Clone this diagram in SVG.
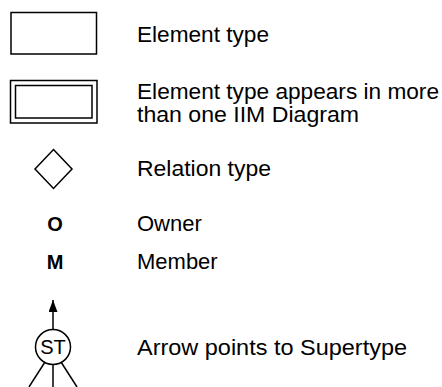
<svg xmlns="http://www.w3.org/2000/svg" width="442" height="387" viewBox="0 0 442 387">
  <style>
    .shape { fill: #fff; stroke: #000; stroke-width: 1.5; }
    .line { fill: none; stroke: #000; stroke-width: 1.5; }
    .label { font-family: "Liberation Sans", Arial, sans-serif; font-size: 22px; fill: #000; }
    .sym { font-family: "Liberation Sans", Arial, sans-serif; font-size: 20px; font-weight: bold; fill: #000; text-anchor: middle; }
    .st { font-family: "Liberation Sans", Arial, sans-serif; font-size: 20px; fill: #000; text-anchor: middle; }
  </style>
  <defs>
    <marker id="head" viewBox="0 0 12 9" refX="12" refY="4.5" markerWidth="8" markerHeight="6" orient="auto" markerUnits="strokeWidth">
      <path d="M0,0 L12,4.5 L0,9 z" fill="#000"/>
    </marker>
  </defs>

  <rect width="442" height="387" fill="#fff"/>

  <!-- element type -->
  <g id="element-type">
    <rect class="shape" x="11" y="12.5" width="85.5" height="41.5"/>
    <text class="label" x="137" y="42" textLength="132" lengthAdjust="spacingAndGlyphs">Element type</text>
  </g>

  <!-- element type shared between diagrams -->
  <g id="shared-element-type">
    <rect class="shape" x="10.5" y="80.5" width="86.5" height="42.5"/>
    <rect class="shape" x="15.5" y="85.5" width="76.5" height="32.5"/>
    <text class="label" x="137" y="99" textLength="302" lengthAdjust="spacingAndGlyphs">Element type appears in more</text>
    <text class="label" x="137" y="122" textLength="222" lengthAdjust="spacingAndGlyphs">than one IIM Diagram</text>
  </g>

  <!-- relation type -->
  <g id="relation-type">
    <polygon class="shape" points="53.5,149.5 72,169 53.5,188.5 35,169"/>
    <text class="label" x="137" y="176" textLength="134" lengthAdjust="spacingAndGlyphs">Relation type</text>
  </g>

  <!-- owner -->
  <g id="owner">
    <text class="sym" x="55" y="231">O</text>
    <text class="label" x="137" y="231">Owner</text>
  </g>

  <!-- member -->
  <g id="member">
    <text class="sym" x="55" y="269">M</text>
    <text class="label" x="137" y="269">Member</text>
  </g>

  <!-- supertype symbol -->
  <g id="supertype">
    <circle class="shape" cx="53" cy="347" r="17.5"/>
    <text class="st" x="53" y="354">ST</text>
    <text class="label" x="137" y="355" textLength="270" lengthAdjust="spacingAndGlyphs">Arrow points to Supertype</text>
  </g>

  <g id="connectors">
    <line class="line" x1="53" y1="329.5" x2="53" y2="300" marker-end="url(#head)"/>
    <line class="line" x1="45" y1="362" x2="29" y2="387"/>
    <line class="line" x1="53" y1="364.5" x2="53" y2="387"/>
    <line class="line" x1="61" y1="362" x2="77" y2="387"/>
  </g>
</svg>
